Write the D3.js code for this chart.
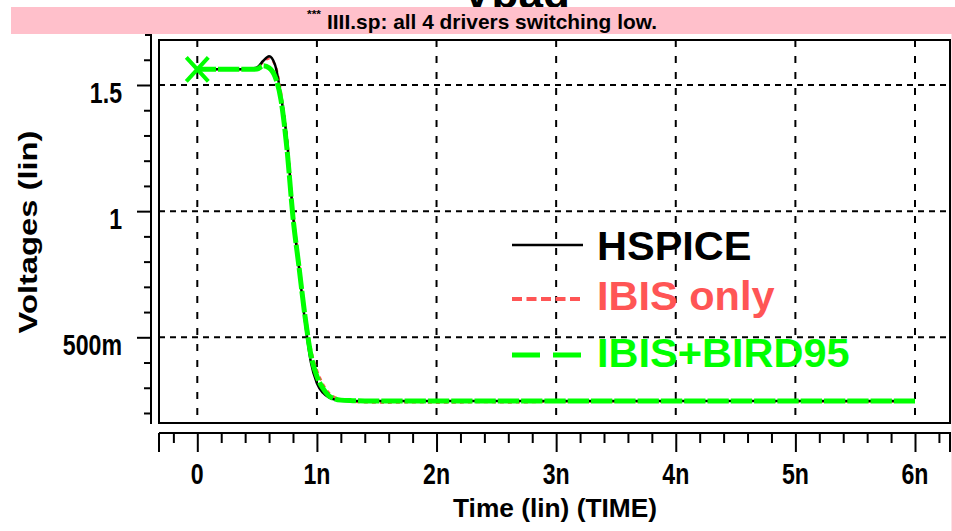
<!DOCTYPE html>
<html><head><meta charset="utf-8">
<script src="https://cdn.jsdelivr.net/npm/d3@7"></script>
<style>
html,body{margin:0;padding:0;background:#fff;}
svg{display:block;}
.nar{font-family:"Liberation Sans","DejaVu Sans",Arial,sans-serif;font-weight:bold;}
.leg{font-family:"Liberation Sans",Arial,sans-serif;font-weight:bold;}
</style></head>
<body>
<script>
// ---- data ----
const times   = [0, 0.2, 0.4, 0.5, 0.55, 0.6, 0.65, 0.7, 0.75, 0.8, 0.85, 0.9, 0.95, 1.0, 1.05, 1.1, 1.15, 1.2, 1.3, 1.4, 1.6, 1.8, 2.0, 2.2, 2.4, 2.6, 3, 4, 5, 6];
const hspice  = [1.562,1.562,1.562,1.570,1.595,1.614,1.580,1.455,1.280,0.985,0.775,0.565,0.400,0.318,0.280,0.262,0.253,0.249,0.248,0.248,0.248,0.248,0.248,0.248,0.248,0.248,0.248,0.248,0.248,0.248];
const ibisOnly= [1.562,1.562,1.562,1.568,1.590,1.605,1.580,1.470,1.290,1.000,0.800,0.605,0.455,0.370,0.315,0.280,0.262,0.252,0.246,0.243,0.241,0.243,0.241,0.242,0.244,0.242,0.245,0.246,0.246,0.246];
const bird95  = [1.562,1.562,1.562,1.563,1.576,1.568,1.533,1.440,1.245,0.975,0.780,0.585,0.430,0.345,0.298,0.268,0.256,0.251,0.249,0.248,0.248,0.248,0.248,0.248,0.248,0.248,0.248,0.248,0.248,0.248];
const xMajorTicks = [0,1,2,3,4,5,6];
const xTickLabels = ["0","1n","2n","3n","4n","5n","6n"];
const yMajorTicks = [0.5,1,1.5];
const yTickLabels = ["500m","1","1.5"];
const legendLabels = ["HSPICE","IBIS only","IBIS+BIRD95"];
const seriesColors = ["#000000","#ff5555","#00ff00"];
const titleText = "Vpad";
const subtitleText = "IIII.sp: all 4 drivers switching low.";
const xTitle = "Time (lin) (TIME)";
const yTitle = "Voltages (lin)";

// ---- layout ----
const W = 955, H = 531;
const svg = d3.select("body").append("svg").attr("width", W).attr("height", H);

const x = d3.scaleLinear().domain([0, 6]).range([197.3, 915]);
const y = d3.scaleLinear().domain([0.5, 1.5]).range([337.3, 85]);
const frame = {x0: 159, x1: 950, y0: 40, y1: 423};

// narrow-font emulation: squeeze horizontally so that "1n" at size 29 is 27px wide
function narrowFactor(size, sample, target) {
  const t = svg.append("text").attr("class","nar").attr("font-size", size).text(sample);
  const w = t.node().getComputedTextLength();
  t.remove();
  return target / w;
}
const fTick = narrowFactor(29, "1n", 27);
function narrowText(parent, px, py, size, anchor, str, f) {
  return parent.append("text").attr("class","nar").attr("font-size", size)
    .attr("text-anchor", anchor)
    .attr("transform", `translate(${px},${py}) scale(${f},1)`).text(str);
}

// title (partly hidden by the pink band)
svg.append("text").attr("class","leg").attr("x", 516).attr("y", 8)
  .attr("text-anchor","middle").attr("font-size", 44).attr("fill","#000").text(titleText);
// pink border
svg.append("rect").attr("x", 11).attr("y", 7).attr("width", W - 11).attr("height", 27).attr("fill", "#ffc0cb");
svg.append("rect").attr("x", 951.5).attr("y", 7).attr("width", 4).attr("height", H).attr("fill", "#ffc0cb");
svg.append("text").attr("class","nar").attr("x", 307).attr("y", 18).attr("font-size", 10)
  .attr("textLength", 14).attr("lengthAdjust","spacingAndGlyphs").text("***");
svg.append("text").attr("class","nar").attr("x", 327).attr("y", 28.5).attr("font-size", 21)
  .attr("textLength", 330).attr("lengthAdjust","spacingAndGlyphs").text(subtitleText);

// grid
const gGrid = svg.append("g");
gGrid.selectAll("line.vg").data(xMajorTicks).join("line")
  .attr("x1", d => x(d)).attr("x2", d => x(d)).attr("y1", frame.y0).attr("y2", frame.y1)
  .attr("stroke","#000").attr("stroke-width",2).attr("stroke-dasharray","7,9");
gGrid.selectAll("line.hg").data(yMajorTicks).join("line")
  .attr("x1", frame.x0).attr("x2", frame.x1).attr("y1", d => y(d)).attr("y2", d => y(d))
  .attr("stroke","#000").attr("stroke-width",2).attr("stroke-dasharray","6,5");

// frame
svg.append("rect").attr("x", frame.x0).attr("y", frame.y0)
  .attr("width", frame.x1 - frame.x0).attr("height", frame.y1 - frame.y0)
  .attr("fill","none").attr("stroke","#000").attr("stroke-width",2);

// x axis (separate, below)
const xAxisY = 433;
const xMinor = d3.range(-0.2, 6.3, 0.2).map(v => Math.round(v*10)/10).filter(v => Math.abs(v - Math.round(v)) > 1e-6);
const xAx = svg.append("g").attr("transform", `translate(0,${xAxisY})`);
xAx.append("line").attr("x1", frame.x0).attr("x2", frame.x1 + 1).attr("stroke","#000").attr("stroke-width",2);
xAx.append("g").call(d3.axisBottom(x).tickValues(xMinor).tickSize(10).tickFormat(""))
  .call(s => { s.select(".domain").remove(); s.selectAll("line").attr("stroke-width",2); });
xAx.append("g").call(d3.axisBottom(x).tickValues(xMajorTicks).tickSize(19).tickFormat(""))
  .call(s => { s.select(".domain").remove(); s.selectAll("line").attr("stroke-width",2); });
[frame.x0, frame.x1].forEach(px => xAx.append("line").attr("x1",px).attr("x2",px).attr("y1",0).attr("y2",19).attr("stroke","#000").attr("stroke-width",2));
xMajorTicks.forEach((d,i) => narrowText(xAx, x(d), 51, 29, "middle", xTickLabels[i], fTick));
svg.append("text").attr("class","nar").attr("x", 555).attr("y", 517).attr("text-anchor","middle")
  .attr("font-size", 26).attr("textLength", 204).attr("lengthAdjust","spacingAndGlyphs").text(xTitle);

// y axis (separate, left)
const yAxisX = 151;
const yMinor = d3.range(0.2, 1.65, 0.1).map(v => Math.round(v*10)/10).filter(v => !yMajorTicks.includes(v));
const yAx = svg.append("g").attr("transform", `translate(${yAxisX},0)`);
yAx.append("line").attr("y1", 34).attr("y2", 424).attr("stroke","#000").attr("stroke-width",2);
yAx.append("line").attr("x1", -6).attr("x2", 1).attr("y1", 35).attr("y2", 35).attr("stroke","#000").attr("stroke-width",2);
yAx.append("g").call(d3.axisLeft(y).tickValues(yMinor).tickSize(7).tickFormat(""))
  .call(s => { s.select(".domain").remove(); s.selectAll("line").attr("stroke-width",2); });
yAx.append("g").call(d3.axisLeft(y).tickValues(yMajorTicks).tickSize(14).tickFormat(""))
  .call(s => { s.select(".domain").remove(); s.selectAll("line").attr("stroke-width",2); });
yMajorTicks.forEach((d,i) => narrowText(yAx, -29, y(d) + 17.5, 29, "end", yTickLabels[i], fTick));
svg.append("text").attr("class","nar").attr("transform","translate(37,232) rotate(-90)")
  .attr("text-anchor","middle").attr("font-size", 26).attr("textLength", 203)
  .attr("lengthAdjust","spacingAndGlyphs").text(yTitle);

// curves
const line = vals => d3.line().x((d,i) => x(times[i])).y(d => y(d)).curve(d3.curveMonotoneX)(vals);
svg.append("clipPath").attr("id","pc").append("rect")
  .attr("x", frame.x0).attr("y", frame.y0).attr("width", frame.x1-frame.x0).attr("height", frame.y1-frame.y0);
const gPlot = svg.append("g").attr("clip-path","url(#pc)");
gPlot.append("path").attr("d", line(ibisOnly)).attr("fill","none").attr("stroke", seriesColors[1])
  .attr("stroke-width", 2.5).attr("stroke-dasharray","4,4");
gPlot.append("path").attr("d", line(hspice)).attr("fill","none").attr("stroke", seriesColors[0])
  .attr("stroke-width", 2.5);
gPlot.append("path").attr("d", line(bird95)).attr("fill","none").attr("stroke", seriesColors[2])
  .attr("stroke-width", 5).attr("stroke-dasharray","21.3,2").attr("stroke-dashoffset", 2.6);
// start marker X
const mx = x(times[0]), my = y(bird95[0]);
svg.append("path").attr("d", `M${mx-11},${my-12}L${mx+11},${my+12}M${mx-11},${my+12}L${mx+11},${my-12}`)
  .attr("stroke", seriesColors[2]).attr("stroke-width", 4).attr("fill","none");

// legend
const legY = [245, 299, 355];
const legTextY = [260, 310, 367];
const legDash = [null, "10,4.5", "28,13"];
const legW = [2.5, 4, 5];
legendLabels.forEach((lab, i) => {
  const l = svg.append("line").attr("x1", 512).attr("x2", 583).attr("y1", legY[i]).attr("y2", legY[i])
    .attr("stroke", seriesColors[i]).attr("stroke-width", legW[i]);
  if (legDash[i]) l.attr("stroke-dasharray", legDash[i]);
  svg.append("text").attr("class","leg").attr("x", 597).attr("y", legTextY[i])
    .attr("font-size", 41.5).attr("fill", seriesColors[i]).text(lab);
});
</script>
</body></html>
